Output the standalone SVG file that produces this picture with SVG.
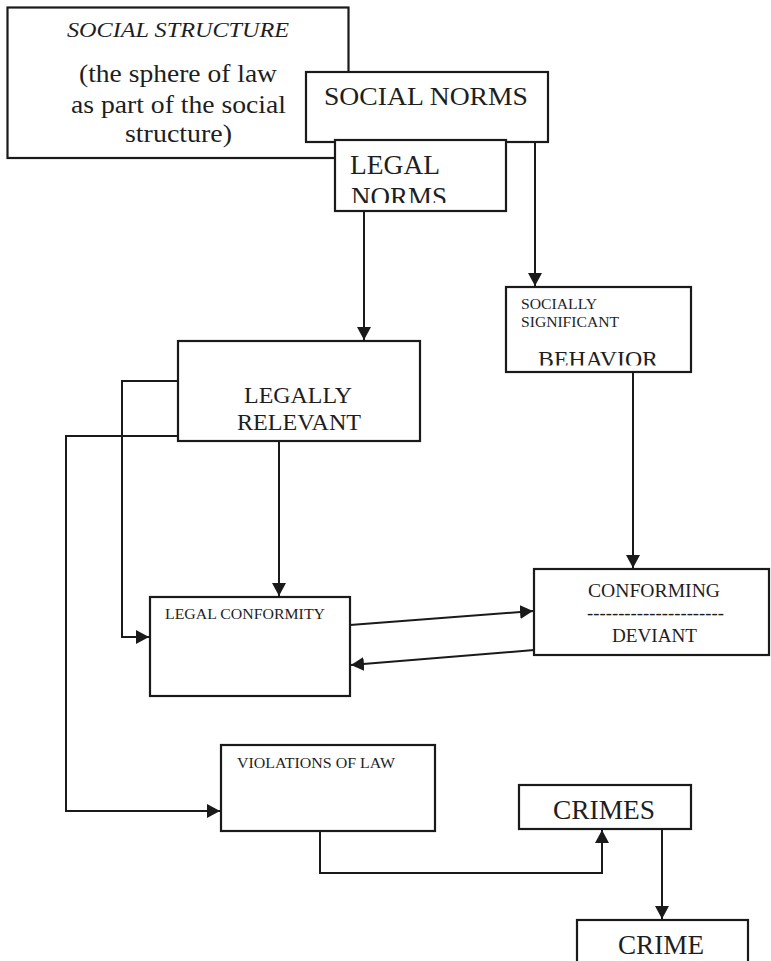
<svg xmlns="http://www.w3.org/2000/svg" width="771" height="961" viewBox="0 0 771 961">
<defs>
<style>
.box{fill:#fff;stroke:#1a1a1a;stroke-width:2.2}
.ln{fill:none;stroke:#1a1a1a;stroke-width:2}
text{fill:#1e1e1e}
</style>
<marker id="ah" markerUnits="userSpaceOnUse" markerWidth="13" markerHeight="14" refX="13" refY="7" orient="auto">
<path d="M0,0 L13,7 L0,14 z" fill="#1a1a1a"/>
</marker>
<clipPath id="clipNorms"><rect x="335" y="140" width="171" height="63"/></clipPath>
<clipPath id="clipBeh"><rect x="505" y="287" width="186" height="78.5"/></clipPath>
</defs>
<rect width="771" height="961" fill="#fff"/>
<g id="connectors">
<path class="ln" d="M364,211 V340" marker-end="url(#ah)"/>
<path class="ln" d="M535,142 V286" marker-end="url(#ah)"/>
<path class="ln" d="M279,441 V596" marker-end="url(#ah)"/>
<path class="ln" d="M178,381 H122 V637 H149" marker-end="url(#ah)"/>
<path class="ln" d="M178,436 H66 V811 H220" marker-end="url(#ah)"/>
<path class="ln" d="M633,372 V568" marker-end="url(#ah)"/>
<path class="ln" d="M350,625 L533,611" marker-end="url(#ah)"/>
<path class="ln" d="M534,650 L351,665" marker-end="url(#ah)"/>
<path class="ln" d="M320,831 V873 H602 V830" marker-end="url(#ah)"/>
<path class="ln" d="M662,829 V919" marker-end="url(#ah)"/>
</g>
<g font-family="Liberation Serif, DejaVu Serif, serif">
<g id="social-structure">
<rect class="box" x="7.5" y="7.5" width="341" height="150.5"/>
<text x="67" y="37" font-size="20" font-style="italic" textLength="222" lengthAdjust="spacingAndGlyphs">SOCIAL  STRUCTURE</text>
<text x="79" y="82" font-size="25" textLength="198" lengthAdjust="spacingAndGlyphs">(the sphere of law</text>
<text x="71" y="113" font-size="25" textLength="215" lengthAdjust="spacingAndGlyphs">as part of the social</text>
<text x="125" y="142" font-size="25" textLength="107" lengthAdjust="spacingAndGlyphs">structure)</text>
</g>
<g id="social-norms">
<rect class="box" x="306" y="72" width="242" height="70"/>
<text x="324" y="105" font-size="26" textLength="204" lengthAdjust="spacingAndGlyphs">SOCIAL NORMS</text>
</g>
<g id="legal-norms">
<rect class="box" x="335" y="140" width="171" height="71"/>
<text x="350" y="174" font-size="28" textLength="90" lengthAdjust="spacingAndGlyphs">LEGAL</text>
<text x="351" y="206" font-size="28" textLength="96" lengthAdjust="spacingAndGlyphs" clip-path="url(#clipNorms)">NORMS</text>
</g>
<g id="socially-significant">
<rect class="box" x="506" y="287" width="185" height="85"/>
<text x="521" y="309" font-size="15" textLength="76" lengthAdjust="spacingAndGlyphs">SOCIALLY</text>
<text x="521" y="327" font-size="15" textLength="98" lengthAdjust="spacingAndGlyphs">SIGNIFICANT</text>
<text x="538" y="367" font-size="23" textLength="120" lengthAdjust="spacingAndGlyphs" clip-path="url(#clipBeh)">BEHAVIOR</text>
</g>
<g id="legally-relevant">
<rect class="box" x="178" y="341" width="242" height="100"/>
<text x="244" y="403" font-size="24" textLength="108" lengthAdjust="spacingAndGlyphs">LEGALLY</text>
<text x="237" y="430" font-size="24" textLength="124" lengthAdjust="spacingAndGlyphs">RELEVANT</text>
</g>
<g id="legal-conformity">
<rect class="box" x="150" y="597" width="200" height="99"/>
<text x="165" y="619" font-size="15" textLength="160" lengthAdjust="spacingAndGlyphs">LEGAL CONFORMITY</text>
</g>
<g id="conforming-deviant">
<rect class="box" x="534" y="569" width="235" height="86"/>
<text x="588" y="597" font-size="19" textLength="132" lengthAdjust="spacingAndGlyphs">CONFORMING</text>
<text x="587" y="619" font-size="19" textLength="137" lengthAdjust="spacingAndGlyphs">----------------------</text>
<text x="612" y="642" font-size="19" textLength="85" lengthAdjust="spacingAndGlyphs">DEVIANT</text>
</g>
<g id="violations-of-law">
<rect class="box" x="221" y="745" width="214" height="86"/>
<text x="237" y="768" font-size="15" textLength="158" lengthAdjust="spacingAndGlyphs">VIOLATIONS OF LAW</text>
</g>
<g id="crimes">
<rect class="box" x="519" y="785" width="172" height="44"/>
<text x="553" y="819" font-size="27" textLength="102" lengthAdjust="spacingAndGlyphs">CRIMES</text>
</g>
<g id="crime">
<rect class="box" x="577" y="920" width="171" height="60"/>
<text x="618" y="954" font-size="27" textLength="86" lengthAdjust="spacingAndGlyphs">CRIME</text>
</g>
</g>
</svg>
